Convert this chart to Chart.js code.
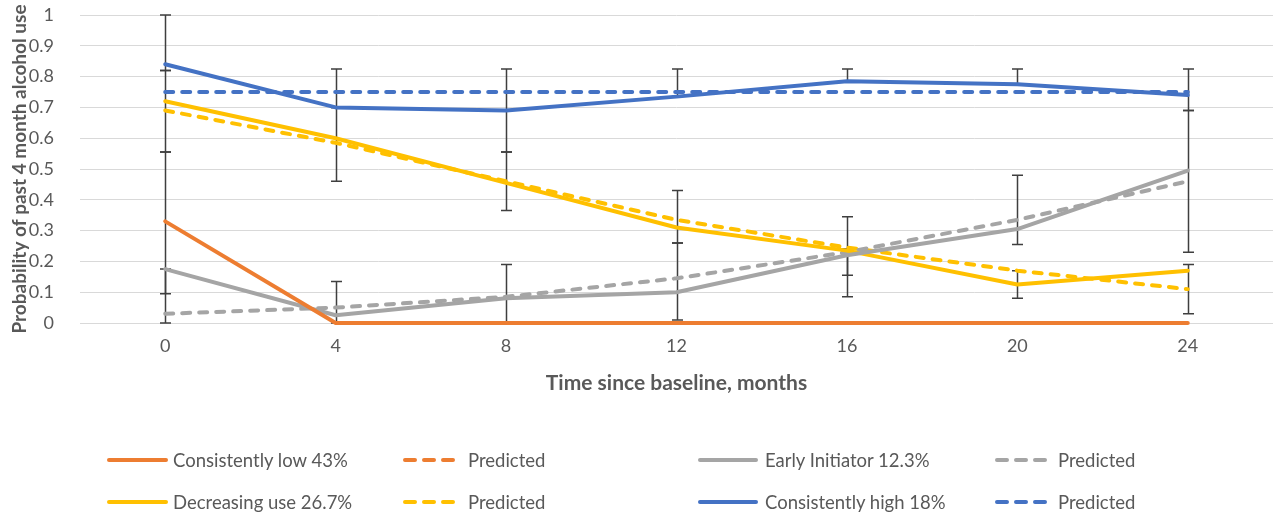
<!DOCTYPE html>
<html><head><meta charset="utf-8">
<script src="https://cdn.jsdelivr.net/npm/chart.js@4.4.0/dist/chart.umd.min.js"></script>
<style>
html,body{margin:0;padding:0;background:#fff;}
#wrap{position:relative;width:1274px;height:518px;overflow:hidden;}
#c{position:absolute;left:0;top:0;}
.lg{position:absolute;height:22px;font-family:Lato,sans-serif;font-size:18.5px;color:#595959;white-space:nowrap;}
.lg svg{position:absolute;top:9px;}
.lg span{position:absolute;top:0;line-height:22px;}
</style></head><body>
<div id="wrap"><canvas id="c" width="1274" height="518"></canvas><div id="legend"></div></div>
<script>
// ---- data ----
const months = ['0', '4', '8', '12', '16', '20', '24'];
const yTickValues = [0, 0.1, 0.2, 0.3, 0.4, 0.5, 0.6, 0.7, 0.8, 0.9, 1];

const lowObserved   = [0.33, 0, 0, 0, 0, 0, 0];
const lowPredicted  = [null, null, null, null, null, null, null];
const lowErrLow     = [0.095, null, null, null, null, null, null];
const lowErrHigh    = [0.555, null, null, null, null, null, null];

const earlyObserved  = [0.175, 0.025, 0.08, 0.10, 0.22, 0.305, 0.495];
const earlyPredicted = [0.03, 0.05, 0.085, 0.145, 0.23, 0.335, 0.46];
const earlyErrLow    = [0, 0, 0, 0.01, 0.155, 0.255, 0.23];
const earlyErrHigh   = [0.175, 0.135, 0.19, 0.26, 0.345, 0.48, 0.69];

const decObserved  = [0.72, 0.60, 0.455, 0.31, 0.235, 0.125, 0.17];
const decPredicted = [0.69, 0.585, 0.46, 0.335, 0.245, 0.17, 0.11];
const decErrLow    = [0.555, 0.46, 0.365, 0.26, 0.085, 0.08, 0.03];
const decErrHigh   = [0.82, 0.70, 0.555, 0.43, 0.24, 0.17, 0.19];

const highObserved  = [0.84, 0.70, 0.69, 0.735, 0.785, 0.775, 0.74];
const highPredicted = [0.75, 0.75, 0.75, 0.75, 0.75, 0.75, 0.75];
const highErrLow    = [0.82, 0.70, 0.555, 0.735, 0.785, 0.775, 0.69];
const highErrHigh   = [1.0, 0.825, 0.825, 0.825, 0.825, 0.825, 0.825];

const seriesNames = ['Consistently low 43%', 'Early Initiator 12.3%', 'Decreasing use 26.7%', 'Consistently high 18%'];
const predictedName = 'Predicted';
const colors = ['#ED7D31', '#A5A5A5', '#FFC000', '#4472C4'];

const observed = [lowObserved, earlyObserved, decObserved, highObserved];
const predicted = [lowPredicted, earlyPredicted, decPredicted, highPredicted];
const errLows = [lowErrLow, earlyErrLow, decErrLow, highErrLow];
const errHighs = [lowErrHigh, earlyErrHigh, decErrHigh, highErrHigh];

// ---- datasets ----
const datasets = [];
const orderSolid = [0, 3, 4, 2];
const orderDash = [1, 5, 6, 4];
for (let s = 0; s < 4; s++) {
  datasets.push({
    label: seriesNames[s], data: observed[s], borderColor: colors[s], backgroundColor: colors[s],
    borderWidth: 4, pointRadius: 0, tension: 0, borderCapStyle: 'round', borderJoinStyle: 'round',
    order: orderSolid[s], clip: false
  });
  datasets.push({
    label: predictedName, data: predicted[s], borderColor: colors[s], backgroundColor: colors[s],
    borderWidth: 4, pointRadius: 0, tension: 0, borderDash: [8, 9], borderCapStyle: 'round',
    order: orderDash[s], clip: false
  });
}

const errorBars = {
  id: 'errorBars',
  beforeDatasetsDraw(chart) {
    const {ctx, scales: {x, y}} = chart;
    ctx.save();
    ctx.strokeStyle = '#3F3F3F';
    ctx.lineWidth = 1.5;
    for (let s = 0; s < errLows.length; s++) {
      errLows[s].forEach((lo, i) => {
        const hi = errHighs[s][i];
        if (lo === null || hi === null) return;
        const px = Math.round(x.getPixelForValue(i)) + 0.5;
        const y1 = y.getPixelForValue(lo), y2 = y.getPixelForValue(hi);
        ctx.beginPath();
        ctx.moveTo(px, y1); ctx.lineTo(px, y2);
        ctx.moveTo(px - 5.5, y1); ctx.lineTo(px + 5.5, y1);
        ctx.moveTo(px - 5.5, y2); ctx.lineTo(px + 5.5, y2);
        ctx.stroke();
      });
    }
    ctx.restore();
  }
};

const FONT = 'Lato, sans-serif';
new Chart(document.getElementById('c'), {
  type: 'line',
  data: {labels: months, datasets},
  plugins: [errorBars],
  options: {
    responsive: false, animation: false, events: [],
    layout: {padding: {top: 15, right: 1, bottom: 122, left: 0}},
    plugins: {legend: {display: false}, tooltip: {enabled: false}},
    scales: {
      x: {
        offset: true,
        grid: {display: false, drawTicks: false},
        border: {display: false},
        ticks: {color: '#595959', font: {family: FONT, size: 18}, padding: 12, maxRotation: 0},
        title: {display: true, text: 'Time since baseline, months', color: '#595959',
                font: {family: FONT, size: 21, weight: 'bold'}, padding: {top: 0, bottom: 0}},
        afterFit(sc) { sc.height = 73; }
      },
      y: {
        min: 0, max: 1,
        afterBuildTicks(sc) { sc.ticks = yTickValues.map(v => ({value: v})); },
        grid: {color: '#D9D9D9', lineWidth: 1, drawTicks: true, tickLength: 26, tickColor: 'rgba(0,0,0,0)'},
        border: {display: false},
        ticks: {color: '#595959', font: {family: FONT, size: 18}, padding: 0,
                callback: v => String(Math.round(v * 10) / 10)},
        title: {display: true, text: 'Probability of past 4 month alcohol use', color: '#595959',
                font: {family: FONT, size: 19, weight: 'bold'}, padding: {top: 8, bottom: 0}},
        afterFit(sc) { sc.width = 80; }
      }
    }
  }
});

// ---- legend (HTML) ----
const legendLayout = [
  {s: 0, dashed: false, row: 0, lx: 107, lw: 61, tx: 173},
  {s: 0, dashed: true,  row: 0, lx: 403, lw: 57, tx: 468},
  {s: 1, dashed: false, row: 0, lx: 698, lw: 60, tx: 765},
  {s: 1, dashed: true,  row: 0, lx: 995, lw: 56, tx: 1058},
  {s: 2, dashed: false, row: 1, lx: 107, lw: 61, tx: 173},
  {s: 2, dashed: true,  row: 1, lx: 403, lw: 57, tx: 468},
  {s: 3, dashed: false, row: 1, lx: 698, lw: 60, tx: 765},
  {s: 3, dashed: true,  row: 1, lx: 995, lw: 56, tx: 1058}
];
const rowY = [460, 502];
const leg = document.getElementById('legend');
legendLayout.forEach(it => {
  const d = document.createElement('div');
  d.className = 'lg';
  d.style.left = it.lx + 'px';
  d.style.top = (rowY[it.row] - 11) + 'px';
  const dash = it.dashed ? 'stroke-dasharray="10 9" stroke-linecap="round"' : 'stroke-linecap="round"';
  const x1 = 2, x2 = it.lw - 2;
  d.innerHTML = `<svg width="${it.lw}" height="4" style="left:0"><line x1="${x1}" y1="2" x2="${x2}" y2="2" stroke="${colors[it.s]}" stroke-width="4" ${dash}/></svg>` +
    `<span style="left:${it.tx - it.lx}px">${it.dashed ? predictedName : seriesNames[it.s]}</span>`;
  leg.appendChild(d);
});
</script>
</body></html>
